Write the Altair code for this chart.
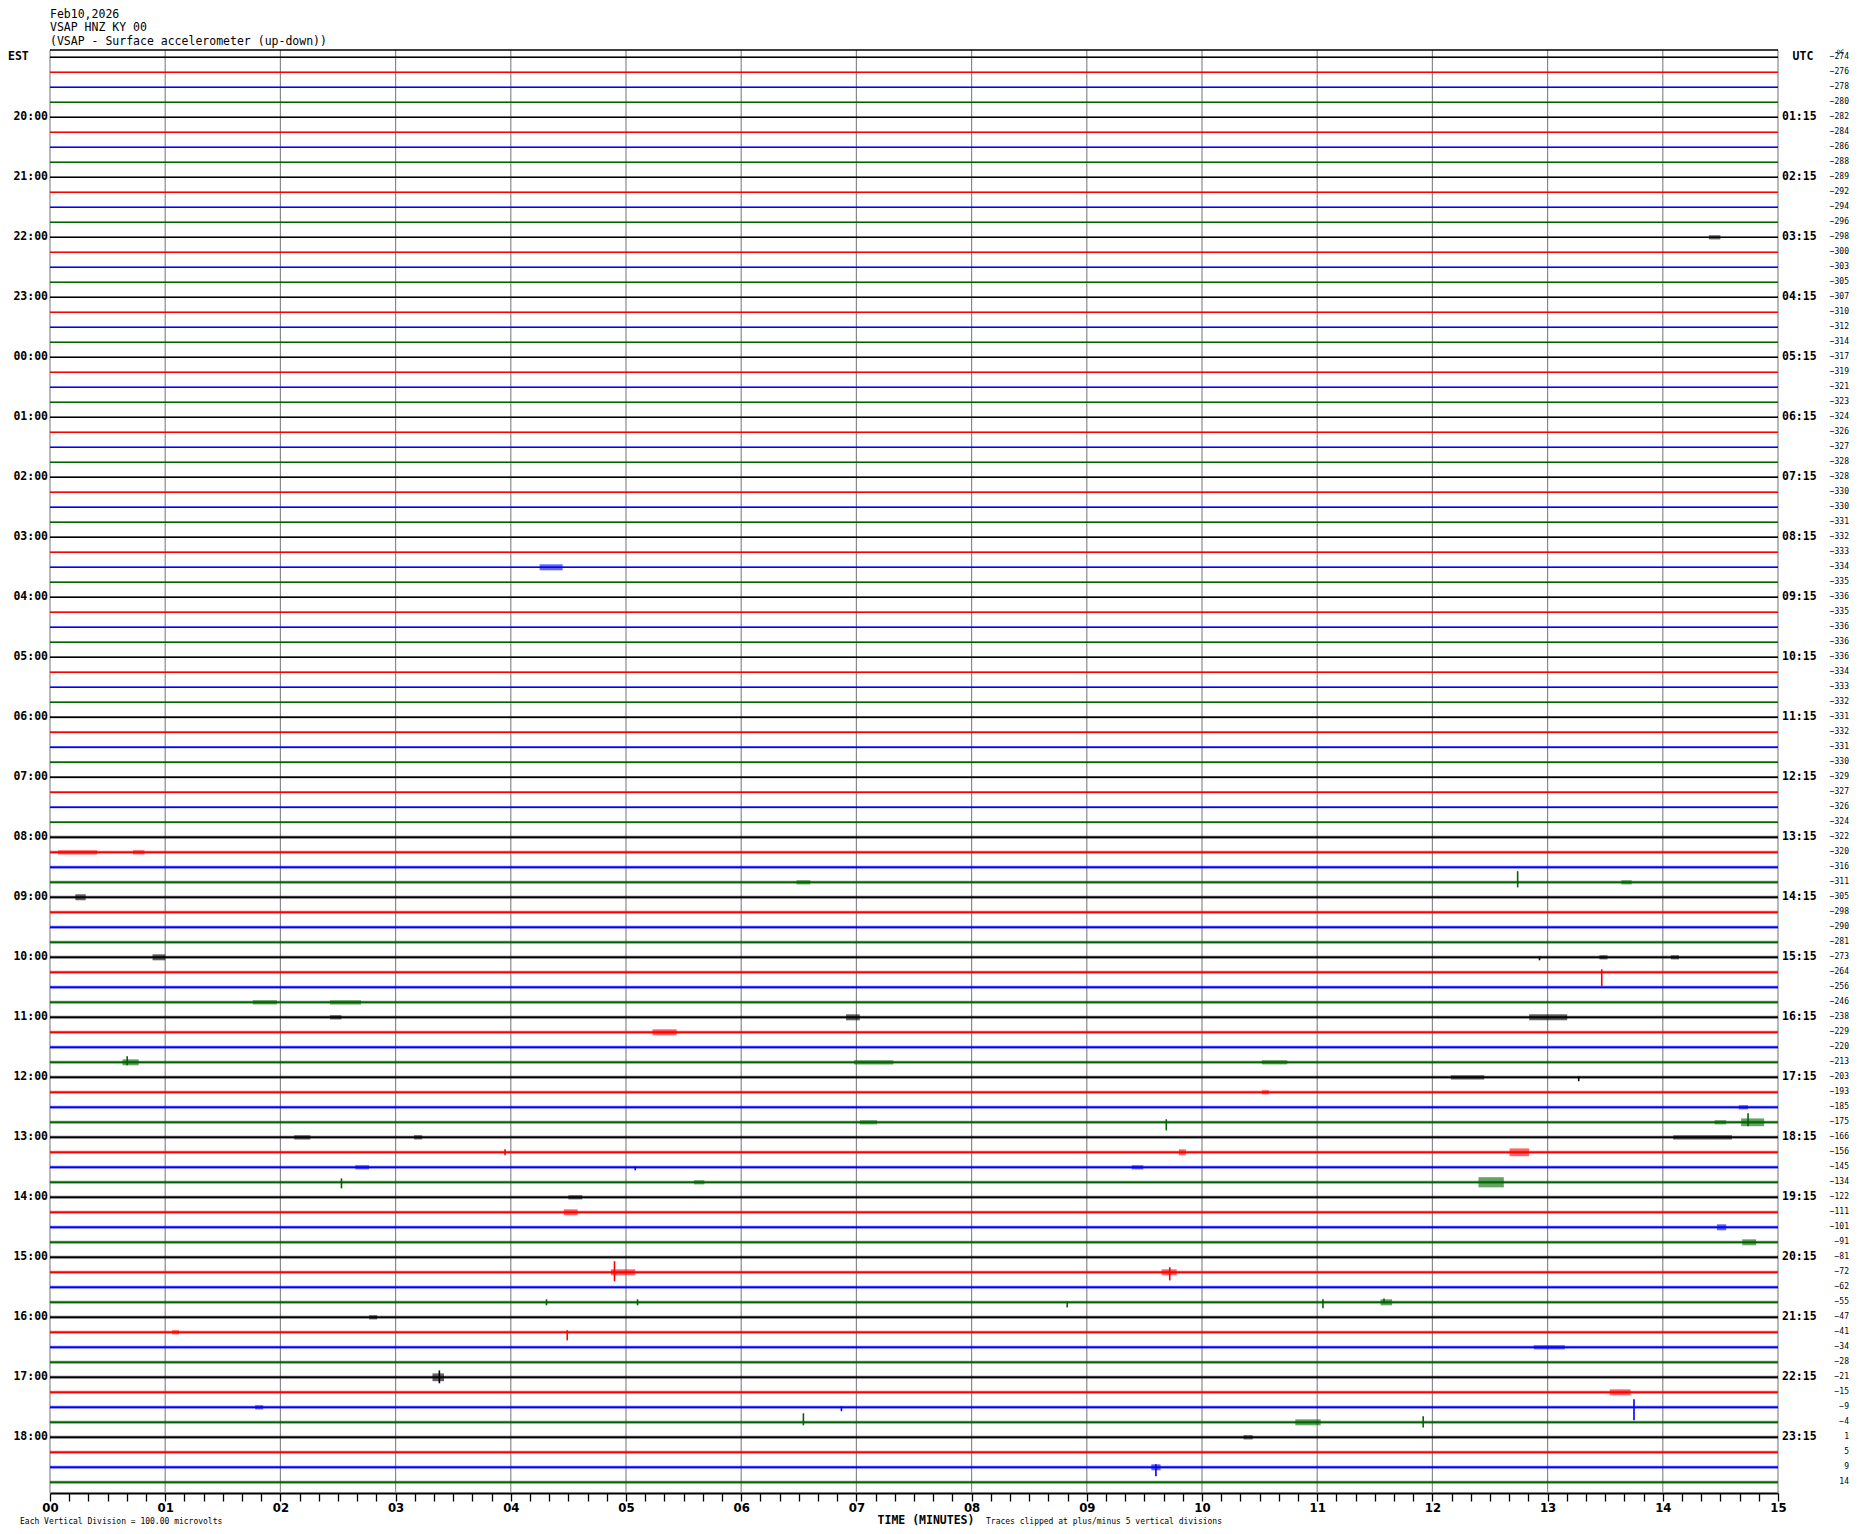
import altair as alt
import pandas as pd

# ---------------- data ----------------
N_ROWS = 96
MINUTES = list(range(0, 16))
TICKS = [round(i / 6, 6) for i in range(0, 91)]  # every 10 s

TRACE_COLORS = ["#000000", "#ff0000", "#0000ff", "#006400"]

DC_VALUES = [
    -274, -276, -278, -280, -282, -284, -286, -288, -289, -292, -294, -296,
    -298, -300, -303, -305, -307, -310, -312, -314, -317, -319, -321, -323,
    -324, -326, -327, -328, -328, -330, -330, -331, -332, -333, -334,
    -335, -336, -335, -336, -336, -336, -334, -333, -332, -331, -332, -331,
    -330, -329, -327, -326, -324, -322, -320, -316, -311, -305, -298, -290,
    -281, -273, -264, -256, -246, -238, -229, -220, -213, -203, -193, -185,
    -175, -166, -156, -145, -134, -122, -111, -101, -91, -81, -72, -62,
    -55, -47, -41, -34, -28, -21, -15, -9, -4, 1, 5, 9, 14,
]

# background noise half-amplitude of each trace (vertical divisions)
NOISE_DIV = ([0.2] * 28) + ([0.25] * 16) + ([0.35] * 8) + ([0.5] * 44)

LABEL_ROWS = list(range(4, 96, 4))
EST_LABELS = ["20:00", "21:00", "22:00", "23:00", "00:00", "01:00", "02:00",
              "03:00", "04:00", "05:00", "06:00", "07:00", "08:00", "09:00",
              "10:00", "11:00", "12:00", "13:00", "14:00", "15:00", "16:00",
              "17:00", "18:00"]
UTC_LABELS = ["01:15", "02:15", "03:15", "04:15", "05:15", "06:15", "07:15",
              "08:15", "09:15", "10:15", "11:15", "12:15", "13:15", "14:15",
              "15:15", "16:15", "17:15", "18:15", "19:15", "20:15", "21:15",
              "22:15", "23:15"]

# spikes: row, minute, up (divisions), down (divisions)
SPIKE_ROW = [55, 61, 71, 71, 75, 81, 81, 83, 83, 85, 88, 90, 90, 91, 91, 94,
             67, 68, 74, 60, 73, 83, 83, 83]
SPIKE_MIN = [12.74, 13.47, 9.69, 14.74, 2.53, 4.90, 9.72, 11.05, 8.83, 4.49,
             3.38, 13.75, 6.87, 6.54, 11.92, 9.60, 0.67, 13.27, 5.08, 12.93,
             3.95, 4.31, 5.10, 11.58]
SPIKE_UP = [3.7, 1.0, 1.0, 3.0, 1.3, 3.7, 1.7, 1.0, 0.3, 0.7, 2.3, 2.7, 0.3,
            3.0, 2.0, 1.0, 2.0, 0.3, 0.3, 0.3, 1.0, 1.0, 1.0, 1.3]
SPIKE_DOWN = [1.7, 4.7, 2.7, 1.3, 2.0, 3.0, 2.7, 2.0, 1.7, 2.7, 2.0, 4.3, 1.3,
              1.0, 1.7, 3.0, 1.0, 1.3, 1.0, 1.0, 1.0, 1.0, 1.0, 0.3]

# bursts: row, start minute, end minute, half amplitude (divisions)
BURST_ROW = [12, 34, 53, 53, 55, 55, 56, 60, 60, 60, 63, 63, 64, 64, 64, 65,
             67, 67, 67, 68, 69, 70, 71, 71, 71, 72, 72, 72, 73, 73, 74, 74,
             75, 75, 76, 77, 78, 79, 81, 81, 83, 84, 85, 86, 88, 89, 90, 91,
             92, 94]
BURST_T0 = [14.40, 4.25, 0.07, 0.72, 6.48, 13.64, 0.22, 0.89, 13.45, 14.07,
            1.76, 2.43, 2.43, 6.91, 12.84, 5.23, 0.63, 6.98, 10.52, 12.16,
            10.52, 14.66, 7.03, 14.45, 14.68, 2.12, 3.16, 14.09, 12.67, 9.80,
            2.65, 9.39, 5.59, 12.40, 4.50, 4.46, 14.47, 14.69, 4.87, 9.65,
            11.55, 2.77, 1.06, 12.88, 3.32, 13.54, 1.78, 10.81, 10.36, 9.56]
BURST_T1 = [14.50, 4.45, 0.41, 0.82, 6.60, 13.73, 0.31, 1.00, 13.52, 14.14,
            1.97, 2.70, 2.53, 7.03, 13.17, 5.44, 0.77, 7.32, 10.74, 12.45,
            10.58, 14.74, 7.18, 14.55, 14.88, 2.26, 3.23, 14.60, 12.84, 9.86,
            2.77, 9.49, 5.68, 12.62, 4.62, 4.58, 14.55, 14.81, 5.08, 9.78,
            11.65, 2.84, 1.12, 13.15, 3.42, 13.72, 1.85, 11.03, 10.44, 9.64]
BURST_AMP = [0.7, 1.0, 0.7, 0.7, 0.7, 0.7, 1.0, 1.0, 0.7, 0.7, 0.7, 0.7, 0.7,
             1.0, 1.0, 1.0, 1.0, 0.7, 0.7, 0.7, 0.7, 0.7, 0.7, 0.7, 1.3, 0.7,
             0.7, 0.7, 1.3, 1.0, 0.7, 0.7, 0.7, 1.7, 0.7, 1.0, 1.0, 1.0, 1.0,
             1.0, 1.0, 0.7, 0.7, 0.7, 1.3, 1.0, 0.7, 1.0, 0.7, 1.0]

DIV_PER_ROW = 5  # traces clipped at +/- 5 vertical divisions = one row spacing

# ---------------- layout ----------------
W, H = 1728, 1443
ROW_PX = 15.0
Y_TOP = -7.3 / ROW_PX
Y_BOT = Y_TOP + H / ROW_PX

MONO = "DejaVu Sans Mono"
NARROW = "Liberation Sans Narrow, DejaVu Sans Condensed, sans-serif"

xs = alt.Scale(domain=[0, 15], nice=False, zero=False)
ys = alt.Scale(domain=[Y_TOP, Y_BOT], nice=False, zero=False, reverse=True)

X_AXIS = alt.Axis(
    values=TICKS, title=None, grid=False,
    labelExpr="datum.value % 1 == 0 ? (datum.value < 10 ? '0' + datum.value : '' + datum.value) : ''",
    labelFont=NARROW, labelFontSize=13, labelFontWeight="bold", labelColor="black",
    labelPadding=0, labelOverlap=False, labelFlush=False,
    tickSize=8, tickColor="black", tickWidth=1.3,
    domainColor="black", domainWidth=2,
)

color_expr = "['" + "','".join(TRACE_COLORS) + "'][datum.row % 4]"

rows_df = pd.DataFrame({"row": list(range(N_ROWS)), "dc": DC_VALUES, "noise": NOISE_DIV})
grid_df = pd.DataFrame({"m": MINUTES})
spike_df = pd.DataFrame({"row": SPIKE_ROW, "t": SPIKE_MIN, "up": SPIKE_UP, "down": SPIKE_DOWN})
burst_df = pd.DataFrame({"row": BURST_ROW, "t0": BURST_T0, "t1": BURST_T1, "amp": BURST_AMP})
lab_df = pd.DataFrame({"row": LABEL_ROWS, "est": EST_LABELS, "utc": UTC_LABELS})

grid = alt.Chart(grid_df).mark_rule(color="#8a8a8a", strokeWidth=1.2).encode(
    x=alt.X("m:Q", scale=xs, axis=X_AXIS)
)

top_border = alt.Chart(grid_df.head(1)).mark_rule(color="black", strokeWidth=1.5).encode(
    y=alt.value(0)
)

noise_band = alt.Chart(rows_df).transform_calculate(
    col=color_expr,
    ya=f"datum.row - datum.noise / {DIV_PER_ROW}",
    yb=f"datum.row + datum.noise / {DIV_PER_ROW}",
).mark_rect(opacity=0.55).encode(
    x=alt.value(0), x2=alt.value(W),
    y=alt.Y("ya:Q", scale=ys, axis=None),
    y2="yb:Q",
    color=alt.Color("col:N", scale=None),
)

traces = alt.Chart(rows_df).transform_calculate(col=color_expr).mark_rule(strokeWidth=1.4).encode(
    y=alt.Y("row:Q", scale=ys, axis=None),
    color=alt.Color("col:N", scale=None),
)

bursts = alt.Chart(burst_df).transform_calculate(
    col=color_expr,
    ya=f"datum.row - datum.amp / {DIV_PER_ROW}",
    yb=f"datum.row + datum.amp / {DIV_PER_ROW}",
).mark_rect(opacity=0.6).encode(
    x=alt.X("t0:Q", scale=xs, axis=X_AXIS),
    x2="t1:Q",
    y=alt.Y("ya:Q", scale=ys, axis=None),
    y2="yb:Q",
    color=alt.Color("col:N", scale=None),
)

spikes = alt.Chart(spike_df).transform_calculate(
    col=color_expr,
    ya=f"datum.row - datum.up / {DIV_PER_ROW}",
    yb=f"datum.row + datum.down / {DIV_PER_ROW}",
).mark_rule(strokeWidth=1.6).encode(
    x=alt.X("t:Q", scale=xs, axis=X_AXIS),
    y=alt.Y("ya:Q", scale=ys, axis=None),
    y2="yb:Q",
    color=alt.Color("col:N", scale=None),
)

est_text = alt.Chart(lab_df).mark_text(
    align="right", baseline="middle", font=MONO, fontSize=11.5, fontWeight="bold", color="black"
).encode(x=alt.value(-2), y=alt.Y("row:Q", scale=ys, axis=None), text="est:N")

utc_text = alt.Chart(lab_df).mark_text(
    align="left", baseline="middle", font=MONO, fontSize=11.5, fontWeight="bold", color="black"
).encode(x=alt.value(W + 4), y=alt.Y("row:Q", scale=ys, axis=None), text="utc:N")

dc_text = alt.Chart(rows_df).mark_text(
    align="right", baseline="middle", font=MONO, fontSize=8, color="black"
).encode(x=alt.value(W + 71), y=alt.Y("row:Q", scale=ys, axis=None), text="dc:Q")


def static_text(txt, x, y, size, weight="normal", align="left", font=MONO):
    return alt.Chart(pd.DataFrame({"t": [txt]})).mark_text(
        align=align, baseline="middle", font=font, fontSize=size, fontWeight=weight, color="black"
    ).encode(x=alt.value(x), y=alt.value(y), text="t:N")


texts = [
    static_text("Feb10,2026", 0, -35, 11.5),
    static_text("VSAP HNZ KY 00", 0, -22, 11.5),
    static_text("(VSAP - Surface accelerometer (up-down))", 0, -8, 11.5),
    static_text("EST", -42, 7.3, 11.5, "bold"),
    static_text("UTC", W + 25, 7.3, 11.5, "bold", "center"),
    static_text("DC", W + 59, 1.5, 6),
    static_text("TIME (MINUTES)", 876, H + 28, 11.5, "bold", "center"),
    static_text("Traces clipped at plus/minus 5 vertical divisions", 936, H + 29, 8),
    static_text("Each Vertical Division =  100.00 microvolts", -30, H + 29, 8),
]

chart = alt.layer(
    grid, top_border, noise_band, traces, bursts, spikes, est_text, utc_text, dc_text, *texts
).properties(
    width=W, height=H,
    autosize=alt.AutoSizeParams(type="none"),
    padding={"left": 42, "top": 42, "right": 72, "bottom": 33},
    background="white",
).configure_view(stroke=None)

chart.save("out.html", embed_options={"renderer": "svg", "actions": False})
